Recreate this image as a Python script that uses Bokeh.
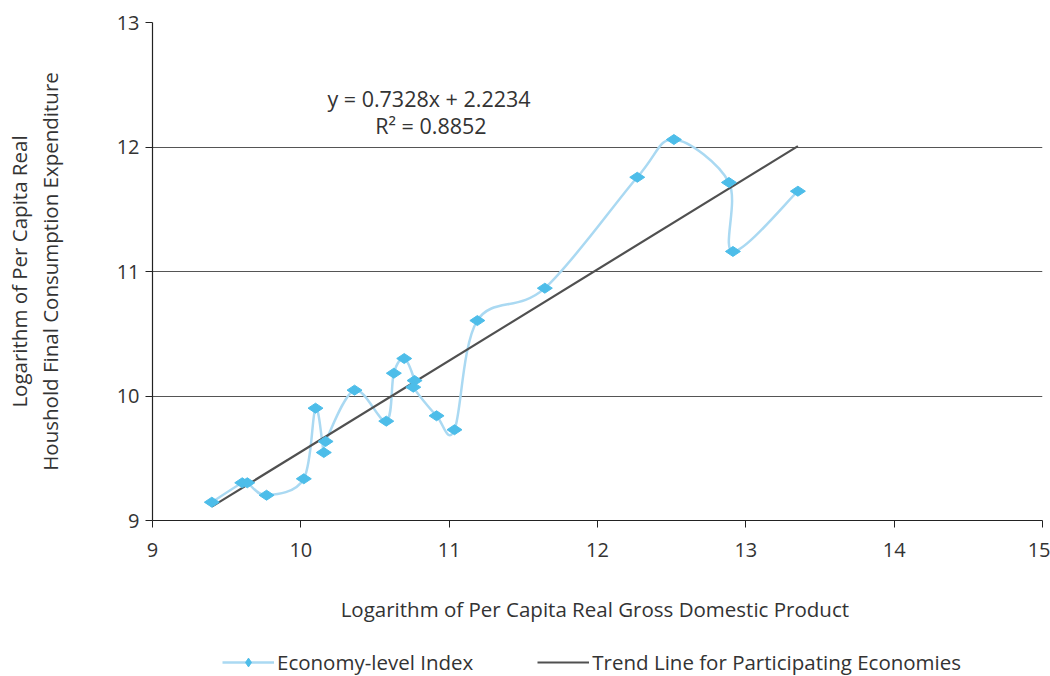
import numpy as np
from bokeh.plotting import figure
from bokeh.layouts import column
from bokeh.models import Range1d, Label, Legend, LegendItem, FixedTicker
from bokeh.embed import file_html
from bokeh.resources import INLINE

# Data
gdp = [9.40, 9.605, 9.639, 9.769, 10.020, 10.099, 10.155, 10.167, 10.362, 10.576,
       10.627, 10.697, 10.767, 10.758, 10.915, 11.036, 11.190, 11.645, 12.268,
       12.515, 12.886, 12.913, 13.351]
hfce = [9.147, 9.303, 9.303, 9.203, 9.335, 9.902, 9.546, 9.635, 10.047, 9.798,
        10.183, 10.301, 10.124, 10.071, 9.841, 9.729, 10.606, 10.866, 11.757,
        12.060, 11.715, 11.161, 11.645]
slope = 0.7328
intercept = 2.2234
r2 = 0.8852
x_ticks = [9, 10, 11, 12, 13, 14, 15]
y_ticks = [9, 10, 11, 12, 13]

FONT = "Open Sans"
TXT = "#333333"
POINT = "#4dbde9"
CURVE = "#aad9f2"
TREND = "#505050"

p = figure(width=1050, height=638, output_backend="svg", toolbar_location=None,
           x_range=Range1d(9, 15), y_range=Range1d(9, 13),
           min_border_left=152, min_border_right=8, min_border_top=22,
           min_border_bottom=118)
p.outline_line_color = None
p.background_fill_color = "white"

for ax in (p.xaxis[0], p.yaxis[0]):
    ax.axis_line_color = "#222222"
    ax.axis_line_width = 1.2
    ax.major_tick_line_color = "#222222"
    ax.major_tick_in = 0
    ax.major_tick_out = 7
    ax.minor_tick_line_color = None
    ax.major_label_text_font = FONT
    ax.major_label_text_font_size = "20px"
    ax.major_label_text_color = TXT
    ax.axis_label_text_font = FONT
    ax.axis_label_text_font_style = "normal"
    ax.axis_label_text_color = TXT
    ax.axis_label_text_font_size = "20.5px"
p.xaxis.ticker = FixedTicker(ticks=x_ticks)
p.yaxis.ticker = FixedTicker(ticks=y_ticks)
p.xaxis.major_label_standoff = 15
p.yaxis.major_label_standoff = 6
p.xaxis.axis_label = "Logarithm of Per Capita  Real Gross Domestic Product"
p.xaxis.axis_label_standoff = 35
p.yaxis.axis_label = "Logarithm of Per Capita Real\nHoushold Final Consumption Expenditure"
p.yaxis.axis_label_text_line_height = 1.1
p.yaxis.axis_label_standoff = 50

p.xgrid.grid_line_color = None
p.ygrid.ticker = FixedTicker(ticks=y_ticks)
p.ygrid.grid_line_color = "#555555"
p.ygrid.grid_line_width = 1

# smoothed curve through the points (Catmull-Rom style Bezier segments)
n = len(gdp)
x0s, y0s, x1s, y1s, cx0s, cy0s, cx1s, cy1s = [], [], [], [], [], [], [], []
for i in range(n - 1):
    a = max(i - 1, 0)
    d = min(i + 2, n - 1)
    x0s.append(gdp[i]); y0s.append(hfce[i])
    x1s.append(gdp[i + 1]); y1s.append(hfce[i + 1])
    cx0s.append(gdp[i] + (gdp[i + 1] - gdp[a]) / 6)
    cy0s.append(hfce[i] + (hfce[i + 1] - hfce[a]) / 6)
    cx1s.append(gdp[i + 1] - (gdp[d] - gdp[i]) / 6)
    cy1s.append(hfce[i + 1] - (hfce[d] - hfce[i]) / 6)
p.bezier(x0=x0s, y0=y0s, x1=x1s, y1=y1s, cx0=cx0s, cy0=cy0s, cx1=cx1s, cy1=cy1s,
         line_color=CURVE, line_width=2.5)

tx = [min(gdp), max(gdp)]
ty = [slope * v + intercept for v in tx]
p.line(tx, ty, line_color=TREND, line_width=2.2)

p.scatter(gdp, hfce, marker="diamond", size=15, angle=np.pi / 2,
          fill_color=POINT, line_color=POINT)

p.add_layout(Label(x=10.864, y=12.39, text=f"y = {slope}x + {intercept}",
                   text_align="center", text_baseline="middle",
                   text_font=FONT, text_font_size="21.5px", text_color=TXT))
p.add_layout(Label(x=10.877, y=12.17, text=f"R\u00b2 = {r2}",
                   text_align="center", text_baseline="middle",
                   text_font=FONT, text_font_size="21.5px", text_color=TXT))

# legend strip below the chart (its proxies fall outside its own ranges)
lg = figure(width=1050, height=38, output_backend="svg", toolbar_location=None,
            x_range=Range1d(0, 1), y_range=Range1d(0, 1),
            min_border_left=152, min_border_right=8, min_border_top=0, min_border_bottom=0)
lg.outline_line_color = None
lg.axis.visible = False
lg.grid.grid_line_color = None
proxy_line = lg.line(gdp, hfce, line_color=CURVE, line_width=2.5)
proxy_pts = lg.scatter(gdp, hfce, marker="diamond", size=15, angle=np.pi / 2,
                       fill_color=POINT, line_color=POINT)
proxy_trend = lg.line(tx, ty, line_color=TREND, line_width=2.2)

legend = Legend(items=[LegendItem(label="Economy-level Index", renderers=[proxy_line, proxy_pts]),
                       LegendItem(label="Trend Line for Participating Economies", renderers=[proxy_trend])],
                orientation="horizontal", location=(70, 0),
                label_text_font=FONT, label_text_font_size="20.5px", label_text_color=TXT,
                glyph_width=52, glyph_height=22, label_standoff=3, spacing=64,
                padding=0, margin=0,
                border_line_color=None, background_fill_alpha=0)
lg.add_layout(legend, "center")

open("out.html", "w").write(file_html(column(p, lg, spacing=0), INLINE))
